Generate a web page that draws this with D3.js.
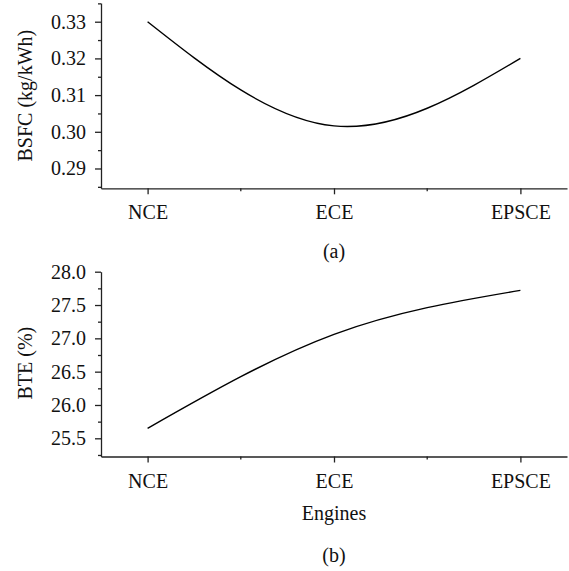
<!DOCTYPE html>
<html>
<head>
<meta charset="utf-8">
<script src="https://cdn.jsdelivr.net/npm/d3@7"></script>
<style>
  body { margin: 0; background: #fff; }
  .axis path, .axis line { stroke: #222; stroke-width: 1.3; }
</style>
</head>
<body>
<svg width="569" height="571"></svg>
<script>
const engines = ['NCE', 'ECE', 'EPSCE'];
const bsfc = [0.330, 0.3016, 0.320];
const bte = [25.65, 27.06, 27.72];
const bsfcTicks = [0.29, 0.30, 0.31, 0.32, 0.33];
const bteTicks = [25.5, 26.0, 26.5, 27.0, 27.5, 28.0];

const serif = "'Liberation Serif', 'Times New Roman', 'DejaVu Serif', serif";

const svg = d3.select('svg');
const left = 101, right = 567;

const x = d3.scalePoint().domain(engines).range([left, right]).padding(0.25);

const styleText = (sel) => sel
  .style('font-family', serif)
  .style('font-size', '20px')
  .attr('fill', '#111');

const drawPanel = (opts) => {
  const g = svg.append('g');
  const y = d3.scaleLinear().domain(opts.domain).range([opts.bottom, opts.top]);

  // curve
  const line = d3.line()
    .x((d, i) => x(engines[i]))
    .y((d) => y(d))
    .curve(d3.curveNatural);
  g.append('path')
    .datum(opts.values)
    .attr('fill', 'none')
    .attr('stroke', '#000')
    .attr('stroke-width', 1.4)
    .attr('d', line);

  // minor y ticks, halfway between the majors
  const minor = opts.ticks.map((v) => v - opts.minorStep)
    .concat(opts.ticks[opts.ticks.length - 1] + opts.minorStep)
    .filter((v) => v >= opts.domain[0] && v <= opts.domain[1]);
  g.append('g')
    .attr('class', 'axis')
    .attr('transform', `translate(${left},0)`)
    .call(d3.axisLeft(y).tickValues(minor).tickSize(3).tickFormat(''))
    .call((a) => a.select('.domain').remove());

  // major y axis
  g.append('g')
    .attr('class', 'axis')
    .attr('transform', `translate(${left},0)`)
    .call(d3.axisLeft(y).tickValues(opts.ticks).tickSize(6).tickSizeOuter(0).tickPadding(9).tickFormat(d3.format(opts.fmt)))
    .call((a) => styleText(a.selectAll('text')));

  // x axis
  const xa = g.append('g')
    .attr('class', 'axis')
    .attr('transform', `translate(0,${opts.bottom})`)
    .call(d3.axisBottom(x).tickSize(6).tickSizeOuter(0));
  styleText(xa.selectAll('text')).attr('dy', null).attr('y', opts.labelY - opts.bottom);
  xa.selectAll('.mtick')
    .data(engines.slice(1))
    .enter().append('line')
      .attr('x1', (d) => x(d) - x.step() / 2)
      .attr('x2', (d) => x(d) - x.step() / 2)
      .attr('y1', 0).attr('y2', 3);

  styleText(g.append('text'))
    .attr('transform', `translate(32,${(opts.top + opts.bottom) / 2 + opts.titleShift}) rotate(-90)`)
    .attr('text-anchor', 'middle')
    .text(opts.title);

  return g;
};

drawPanel({
  values: bsfc, domain: [0.2846, 0.3351], top: 3, bottom: 188.3,
  ticks: bsfcTicks, minorStep: 0.005, fmt: '.2f', title: 'BSFC (kg/kWh)',
  labelY: 219, titleShift: 0
});

drawPanel({
  values: bte, domain: [25.227, 28.0], top: 271.7, bottom: 456.5,
  ticks: bteTicks, minorStep: 0.25, fmt: '.1f', title: 'BTE (%)',
  labelY: 488, titleShift: -1
});

styleText(svg.append('text'))
  .attr('x', x('ECE')).attr('y', 258)
  .attr('text-anchor', 'middle')
  .text('(a)');

styleText(svg.append('text'))
  .attr('x', x('ECE')).attr('y', 520)
  .attr('text-anchor', 'middle')
  .text('Engines');

styleText(svg.append('text'))
  .attr('x', x('ECE')).attr('y', 562)
  .attr('text-anchor', 'middle')
  .text('(b)');
</script>
</body>
</html>
